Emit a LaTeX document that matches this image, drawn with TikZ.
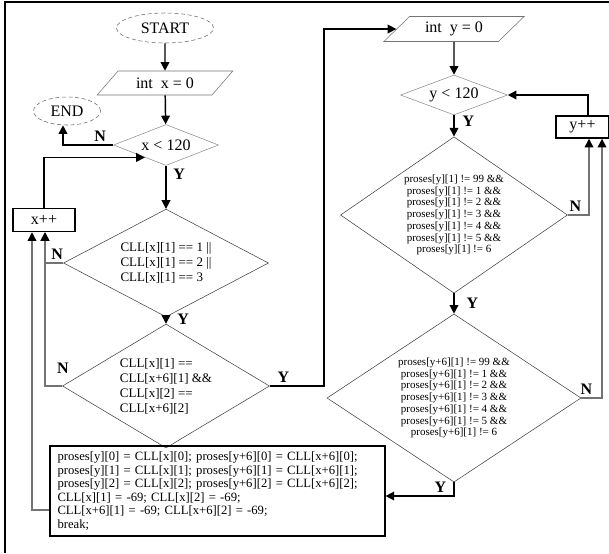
\documentclass[tikz,border=0pt]{standalone}
\usepackage{fontspec}
\setmainfont{Liberation Serif}
\usetikzlibrary{positioning, calc, arrows.meta, shapes.geometric}

\begin{document}
\begin{tikzpicture}[
  x=0.75pt, y=-0.75pt,
  term/.style    = {ellipse, draw=black!60, densely dashed, thin, inner sep=0pt,
                    font=\fontsize{12}{14}\selectfont},
  io/.style      = {trapezium, trapezium left angle=40, trapezium right angle=140,
                    trapezium stretches, draw=black!55, thin, inner sep=0pt,
                    font=\fontsize{12}{14}\selectfont},
  test/.style    = {diamond, draw=black!45, thin, inner sep=-4.5pt,
                    font=\fontsize{12}{14}\selectfont},
  cond/.style    = {diamond, draw=black!75, thin, inner sep=-4.5pt, align=left,
                    font=\fontsize{9.75}{11.25}\selectfont},
  bigcond/.style = {diamond, draw=black!75, thin, inner sep=-4.5pt, align=center,
                    font=\fontsize{8.25}{8.8}\selectfont},
  inc/.style     = {rectangle, draw, line width=1.1pt, inner sep=0pt,
                    font=\fontsize{12}{14}\selectfont},
  arr/.style     = {-{Triangle[length=6.5pt, width=6.5pt]}, line width=1.1pt},
  back/.style    = {arr, draw=black!55, -{Triangle[length=6.5pt, width=6.5pt, color=black]}},
  lab/.style     = {font=\bfseries\fontsize{12}{14}\selectfont, inner sep=1pt},
]
\useasboundingbox (0,0) rectangle (609,553);

% ---- frame ------------------------------------------------------------------
\draw[line width=1.2pt] (5,553) -- (5,2) -- (609,2);

% ---- outer loop (x) ---------------------------------------------------------
\node[term, minimum width=72.75pt, minimum height=22.5pt] (start) at (165,28) {START};
\node[io, minimum width=102pt, minimum height=18pt]       (xinit) at (165,83) {int\enspace x = 0};
\node[term, minimum width=50.25pt, minimum height=21pt]   (endn)  at (67,111) {END};
\node[test, minimum width=78.75pt, minimum height=30.75pt] (xlt)  at (166,145) {x < 120};
\node[inc, minimum width=46.5pt, minimum height=17.25pt]  (xinc)  at (44,220) {x++};

\node[cond, minimum width=153.75pt, minimum height=66.75pt] (c1) at (166,263)
  {CLL[x][1] == 1 ||\\ CLL[x][1] == 2 ||\\ CLL[x][1] == 3};
\node[cond, minimum width=155.25pt, minimum height=84.75pt] (c2) at (166,386)
  {CLL[x][1] ==\\ CLL[x+6][1] \&\&\\ CLL[x][2] ==\\ CLL[x+6][2]};

% ---- inner loop (y) ---------------------------------------------------------
\node[io, minimum width=105.75pt, minimum height=18.75pt] (yinit) at (454,29) {int\enspace y = 0};
\node[test, minimum width=80.25pt, minimum height=30pt]   (ylt)   at (454,95) {y < 120};
\node[inc, minimum width=39.75pt, minimum height=16.5pt]  (yinc)  at (582.5,127) {y++};

\node[bigcond, minimum width=170.25pt, minimum height=109.5pt] (d1) at (454,215)
  {proses[y][1] != 99 \&\&\\ proses[y][1] != 1 \&\&\\ proses[y][1] != 2 \&\&\\
   proses[y][1] != 3 \&\&\\ proses[y][1] != 4 \&\&\\ proses[y][1] != 5 \&\&\\
   proses[y][1] != 6};
\node[bigcond, minimum width=190.5pt, minimum height=113.25pt] (d2) at (454,398)
  {proses[y+6][1] != 99 \&\&\\ proses[y+6][1] != 1 \&\&\\ proses[y+6][1] != 2 \&\&\\
   proses[y+6][1] != 3 \&\&\\ proses[y+6][1] != 4 \&\&\\ proses[y+6][1] != 5 \&\&\\
   proses[y+6][1] != 6};

% ---- the swap ---------------------------------------------------------------
\node[draw, line width=1.1pt, align=left, text width=240pt, minimum height=67.5pt,
      inner xsep=5.5pt, font=\fontsize{9.5}{10.1}\selectfont] (body) at (217.5,491)
  {proses[y][0] = CLL[x][0]; proses[y+6][0] = CLL[x+6][0];\\
   proses[y][1] = CLL[x][1]; proses[y+6][1] = CLL[x+6][1];\\
   proses[y][2] = CLL[x][2]; proses[y+6][2] = CLL[x+6][2];\\
   CLL[x][1] = -69; CLL[x][2] = -69;\\
   CLL[x+6][1] = -69; CLL[x+6][2] = -69;\\
   break;};

\coordinate (yloop) at (324,0);

% ---- connectors -------------------------------------------------------------
\draw[arr] (start) -- (xinit);
\draw[arr] (xinit) -- (xlt);
\draw[arr] (xlt.west) -| node[lab, pos=0.13, above=1pt] {N} ($(endn.south)+(-4,0)$);
\draw[arr] (xlt.south) -- node[lab, pos=0.2, right=4pt] {Y} (c1.north);
\draw[arr] (xinc.north) |- ($(xlt.west)!0.6!(xlt.south)$);
\draw[arr] (c1.south) -- node[lab, pos=0.3, right=7pt] {Y} (c2.north);
\draw[back] (c1.west) -| node[lab, pos=0.17, above=1pt] {N} ($(xinc.south)+(1,0)$);
\draw[back] (c2.west) -| ($(xinc.south)+(1,0)$);
\node[lab] (c2n) at (63,368) {N};
\draw[arr] (c2.east) -- node[lab, pos=0.25, above=1pt] {Y} (c2.east -| yloop) |- (yinit.west);

\draw[arr] (yinit) -- (ylt);
\draw[arr] (ylt.south) -- node[lab, pos=0.3, right=5pt] {Y} (d1.north);
\draw[arr] (d1.south) -- node[lab, pos=0.5, right=8pt] {Y} (d2.north);
\draw[back] (d1.east) -| node[lab, pos=0.18, above=1pt] {N} ($(yinc.south)+(6.5,0)$);
\draw[back] (d2.east) -| node[lab, pos=0.125, above=1pt] {N} ($(yinc.south)+(19.5,0)$);
\draw[arr] ($(yinc.north)+(5.5,0)$) |- (ylt.east);
\draw[arr] (d2.south) |- node[lab, pos=0.6, above=1pt] {Y} ($(body.east)+(0,5)$);
\draw[back] ($(body.west)+(0,19)$) -| ($(xinc.south)+(-12,0)$);

\end{tikzpicture}
\end{document}
